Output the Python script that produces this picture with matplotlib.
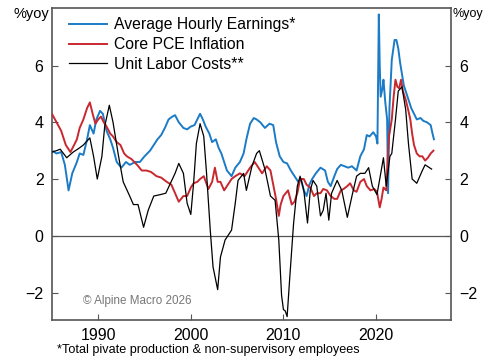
import numpy as np
import matplotlib
matplotlib.use("Agg")
import matplotlib.pyplot as plt

plt.rcParams['font.family'] = ['Liberation Sans', 'DejaVu Sans']

# Average hourly earnings (%yoy)
ahe_t = [1985.0, 1985.5, 1986.0, 1986.4, 1986.8, 1987.2, 1987.7, 1988.0, 1988.4, 1988.8,
         1989.1, 1989.5, 1989.8, 1990.2, 1990.5, 1990.9, 1991.3, 1991.6, 1992.0, 1992.5,
         1993.0, 1993.4, 1994.0, 1994.5, 1995.0, 1995.6, 1996.0, 1996.4, 1996.8, 1997.2,
         1997.6, 1998.0, 1998.3, 1998.7, 1999.2, 1999.6, 2000.0, 2000.4, 2001.0, 2001.3,
         2001.6, 2002.0, 2002.3, 2002.7, 2003.0, 2003.3, 2003.6, 2003.9, 2004.4, 2004.8,
         2005.3, 2005.7, 2006.0, 2006.4, 2006.8, 2007.1, 2007.5, 2008.0, 2008.5, 2008.9,
         2009.2, 2009.6, 2010.0, 2010.4, 2010.8, 2011.2, 2011.6, 2011.9, 2012.2, 2012.5,
         2012.8, 2013.1, 2013.5, 2014.0, 2014.5, 2014.8, 2015.1, 2015.5, 2015.8, 2016.2,
         2016.6, 2017.0, 2017.4, 2017.9, 2018.3, 2018.7, 2019.0, 2019.3, 2019.7, 2020.0,
         2020.15, 2020.3, 2020.4, 2020.5, 2020.7, 2020.8, 2021.0, 2021.2, 2021.3, 2021.45,
         2021.7, 2022.0, 2022.2, 2022.4, 2022.6, 2022.8, 2023.0, 2023.2, 2023.5, 2023.8,
         2024.1, 2024.4, 2024.8, 2025.1, 2025.5, 2025.9, 2026.1, 2026.25]
ahe_v = [3.0, 2.9, 2.95, 2.5, 1.6, 2.2, 2.6, 2.9, 2.85, 3.4,
         3.9, 3.6, 4.1, 4.4, 4.3, 3.7, 3.4, 3.1, 2.6, 2.4,
         2.6, 2.5, 2.6, 2.6, 2.8, 3.0, 3.2, 3.4, 3.55, 3.8,
         4.1, 4.2, 4.25, 4.0, 3.8, 3.75, 3.85, 3.9, 4.3, 4.1,
         3.85, 3.6, 3.3, 3.4, 3.1, 2.9, 2.6, 2.3, 2.1, 2.4,
         2.6, 2.9, 3.4, 3.95, 4.15, 4.1, 4.0, 3.8, 3.95, 3.9,
         3.3, 2.8, 2.6, 2.55, 2.3, 2.1, 1.9, 2.0, 1.6, 1.4,
         1.8, 2.0, 2.2, 2.4, 2.3, 1.9, 1.75, 2.1, 2.35, 2.5,
         2.45, 2.4, 2.45, 2.3, 2.8, 3.05, 3.55, 3.5, 3.65, 3.5,
         3.25, 7.8, 6.0, 4.9, 5.2, 5.5, 4.7, 4.1, 1.5, 4.5,
         6.2, 6.9, 6.9, 6.6, 6.1, 5.7, 5.3, 5.1, 4.8, 4.5,
         4.3, 4.1, 4.15, 4.05, 4.0, 3.9, 3.6, 3.4]

# Core PCE inflation (%yoy)
pce_t = [1985.0, 1985.5, 1986.0, 1986.5, 1987.0, 1987.4, 1987.7, 1988.0, 1988.4, 1988.8,
         1989.1, 1989.4, 1989.7, 1990.0, 1990.3, 1990.6, 1990.9, 1991.3, 1991.6, 1992.0,
         1992.4, 1992.8, 1993.1, 1993.6, 1994.2, 1994.7, 1995.2, 1995.7, 1996.3, 1996.8,
         1997.4, 1997.9, 1998.3, 1998.7, 1999.2, 1999.6, 2000.0, 2000.3, 2000.7, 2001.0,
         2001.4, 2001.9, 2002.3, 2002.6, 2002.9, 2003.2, 2003.6, 2004.0, 2004.4, 2004.8,
         2005.3, 2005.8, 2006.4, 2006.9, 2007.3, 2007.7, 2008.2, 2008.6, 2008.9, 2009.2,
         2009.5, 2009.7, 2010.0, 2010.5, 2010.9, 2011.2, 2011.5, 2011.8, 2012.2, 2012.5,
         2012.9, 2013.3, 2013.6, 2014.0, 2014.3, 2014.7, 2015.1, 2015.5, 2015.8, 2016.2,
         2016.5, 2016.9, 2017.2, 2017.6, 2017.9, 2018.3, 2018.7, 2019.0, 2019.4, 2019.8,
         2020.1, 2020.4, 2020.6, 2020.8, 2021.1, 2021.3, 2021.4, 2021.7, 2021.9, 2022.1,
         2022.3, 2022.5, 2022.7, 2022.9, 2023.2, 2023.5, 2023.7, 2023.9, 2024.1, 2024.4,
         2024.7, 2025.0, 2025.3, 2025.6, 2025.9, 2026.2]
pce_v = [4.3, 4.0, 3.7, 3.2, 2.95, 3.2, 3.4, 3.8, 4.1, 4.5,
         4.7, 4.3, 3.95, 4.1, 4.2, 4.0, 3.85, 3.6, 3.5, 3.3,
         3.2, 2.9, 2.8, 2.7, 2.5, 2.3, 2.3, 2.25, 2.1, 2.05,
         1.9, 1.8, 1.5, 1.2, 1.4, 1.4, 1.7, 1.85, 1.9, 2.0,
         2.1, 1.65, 1.9, 2.4, 1.9, 1.9, 1.6, 1.8, 2.0, 2.1,
         2.2, 2.1, 2.4, 2.6, 2.4, 2.2, 2.45, 2.3, 1.8, 1.3,
         0.7, 1.1, 1.4, 1.6, 1.1, 1.2, 1.5, 2.0, 2.0, 1.8,
         1.7, 1.4, 1.5, 1.5, 1.65, 1.6, 1.4, 1.3, 1.3, 1.6,
         1.65, 1.75, 1.85, 1.6, 1.55, 1.9, 2.0, 1.75, 1.6, 1.65,
         1.55, 1.0, 1.3, 1.7, 1.6, 3.0, 3.5, 4.1, 4.9, 5.5,
         5.25, 5.2, 5.5, 5.1, 4.8, 4.4, 4.1, 3.6, 3.2, 2.9,
         2.8, 2.8, 2.65, 2.75, 2.9, 3.0]

# Unit labor costs (%yoy)
ulc_t = [1985.0, 1985.5, 1985.9, 1986.6, 1987.3, 1988.0, 1988.4, 1989.1, 1989.5, 1989.9,
         1990.4, 1990.7, 1991.2, 1991.6, 1992.2, 1992.7, 1993.4, 1993.8, 1994.3, 1994.9,
         1995.4, 1996.0, 1996.7, 1997.3, 1997.8, 1998.3, 1998.7, 1999.2, 1999.6, 2000.0,
         2000.3, 2000.6, 2001.0, 2001.4, 2001.7, 2002.1, 2002.4, 2002.9, 2003.2, 2003.7,
         2004.1, 2004.4, 2004.8, 2005.1, 2005.7, 2006.0, 2006.6, 2007.1, 2007.4, 2008.0,
         2008.6, 2009.1, 2009.5, 2009.8, 2010.0, 2010.2, 2010.4, 2010.7, 2011.1, 2011.5,
         2011.8, 2012.2, 2012.6, 2012.9, 2013.2, 2013.6, 2014.0, 2014.3, 2014.6, 2014.9,
         2015.2, 2015.8, 2016.3, 2016.9, 2017.4, 2017.9, 2018.3, 2018.8, 2019.2, 2019.6,
         2020.1, 2020.4, 2020.8, 2021.1, 2021.5, 2021.7, 2022.1, 2022.4, 2022.8, 2023.2,
         2023.5, 2023.9, 2024.4, 2025.0, 2025.3, 2026.0]
ulc_v = [2.95, 3.0, 3.05, 2.75, 2.95, 3.1, 3.2, 3.45, 2.8, 2.0,
         2.8, 3.85, 4.6, 4.0, 2.8, 1.9, 1.4, 1.1, 1.1, 0.3,
         0.9, 1.4, 1.45, 1.5, 1.85, 2.2, 2.55, 2.2, 1.15, 0.75,
         1.85, 3.25, 3.95, 3.5, 2.2, 0.2, -1.1, -1.9, -0.75, -0.15,
         0.05, 0.2, 1.15, 1.95, 2.2, 1.6, 2.45, 2.9, 3.0, 2.35,
         1.4, 1.25, -0.15, -2.1, -2.6, -2.65, -2.85, -1.4, 0.45, 1.75,
         2.1, 1.6, 0.45, 1.6, 1.95, 1.75, 0.7, 0.9, 1.5, 0.55,
         1.5, 1.95, 1.6, 0.65, 1.4, 2.1, 2.2, 2.2, 2.4, 1.75,
         1.45, 2.0, 2.75, 1.75, 2.8, 2.9, 4.1, 5.1, 5.25, 4.45,
         3.25, 2.0, 1.85, 2.3, 2.5, 2.35]

labels = ['Average Hourly Earnings*', 'Core PCE Inflation', 'Unit Labor Costs**']
yticks = [-2, 0, 2, 4, 6]
xticks = [1990, 2000, 2010, 2020]

fig = plt.figure(figsize=(4.85, 3.6), dpi=100)
ax = fig.add_axes([0.107, 0.111, 0.823, 0.867])

ax.axhline(0, color='#555555', lw=0.9, zorder=1)
ax.plot(ahe_t, ahe_v, color='#1b7bc6', lw=1.4, label=labels[0], zorder=3)
ax.plot(pce_t, pce_v, color='#c8282f', lw=1.4, label=labels[1], zorder=4)
ax.plot(ulc_t, ulc_v, color='black', lw=0.9, label=labels[2], zorder=5)

ax.set_xlim(1985, 2028.1)
ax.set_ylim(-2.97, 8.03)
ax.set_xticks(xticks)
ax.set_yticks(yticks)
ax.tick_params(axis='y', direction='in', length=4, width=0.8, color='#555555',
               right=True, labelright=True, labelsize=11.5, pad=6)
ax.tick_params(axis='x', direction='in', length=4, width=0.8, color='#555555',
               labelsize=11.5, pad=6)
for s in ax.spines.values():
    s.set_color('#555555')
    s.set_linewidth(1.2)

leg = ax.legend(loc='upper left', bbox_to_anchor=(0.02, 1.0), frameon=False,
                fontsize=11.3, handlelength=2.4, handletextpad=0.45,
                labelspacing=0.3, borderaxespad=0.2)

fig.text(0.027, 0.962, '%yoy', fontsize=10.5, va='center', ha='left')
fig.text(0.934, 0.962, '%yoy', fontsize=9, va='center', ha='left')
ax.text(0.078, 0.06, '\u00a9 Alpine Macro 2026', transform=ax.transAxes,
        fontsize=8.4, color='#777777', va='center')
fig.text(0.117, 0.027, '*Total pivate production & non-supervisory employees',
         fontsize=9.1, va='center', ha='left')

fig.savefig('out.png', dpi=100)
